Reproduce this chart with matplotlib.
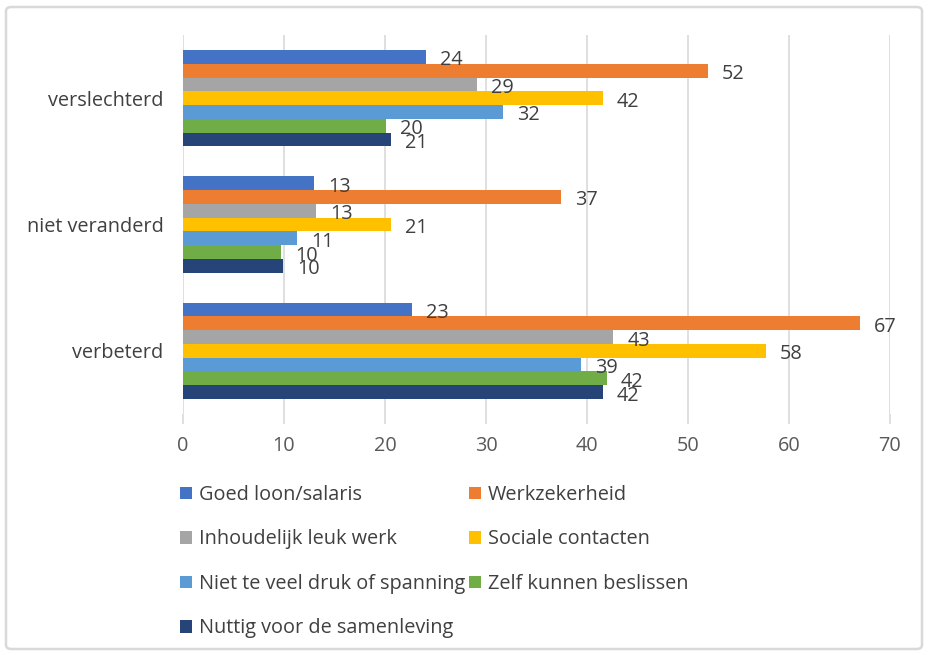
import matplotlib
matplotlib.use("Agg")
import matplotlib.pyplot as plt
import numpy as np
from matplotlib.patches import FancyBboxPatch

plt.rcParams['font.family'] = ['Open Sans', 'DejaVu Sans']

categories = ["verbeterd", "niet veranderd", "verslechterd"]
series_names = [
    "Goed loon/salaris",
    "Werkzekerheid",
    "Inhoudelijk leuk werk",
    "Sociale contacten",
    "Niet te veel druk of spanning",
    "Zelf kunnen beslissen",
    "Nuttig voor de samenleving",
]
# values per series, ordered as categories (verbeterd, niet veranderd, verslechterd)
goed_loon = [22.7, 13.0, 24.1]
werkzekerheid = [67.0, 37.4, 52.0]
inhoudelijk = [42.6, 13.2, 29.1]
sociale = [57.7, 20.6, 41.6]
niet_te_veel = [39.4, 11.3, 31.7]
zelf = [42.0, 9.7, 20.1]
nuttig = [41.6, 9.9, 20.6]
values = [goed_loon, werkzekerheid, inhoudelijk, sociale, niet_te_veel, zelf, nuttig]
colors = ["#4472C4", "#ED7D31", "#A5A5A5", "#FFC000", "#5B9BD5", "#70AD47", "#264478"]
xticks = [0, 10, 20, 30, 40, 50, 60, 70]

fs = 14.3

fig = plt.figure(figsize=(9.29, 6.55), dpi=100)
ax = fig.add_axes([183/929, 1-414/655, (890-183)/929, (414-35)/655])

n = len(values)
bh = 0.109
y = np.arange(len(categories))
handles = []
for i, (vals, c, name) in enumerate(zip(values, colors, series_names)):
    pos = y + (n/2 - i - 0.5) * bh
    b = ax.barh(pos, vals, height=bh, color=c, label=name, zorder=3)
    handles.append(b)
    for p, v in zip(pos, vals):
        ax.annotate(f"{int(v + 0.5):d}", (v, p), xytext=(10, -2.5), textcoords='offset points',
                    ha='left', va='center', fontsize=fs, color='#404040', zorder=4)

ax.set_xlim(0, 70)
ax.set_ylim(-0.5, 2.5)
ax.set_xticks(xticks)
ax.set_xticklabels([str(t) for t in xticks])
ax.set_yticks(y)
ax.set_yticklabels(categories)
ax.grid(axis='x', color='#d9d9d9', linewidth=1.2, zorder=0)
for s in ax.spines.values():
    s.set_visible(False)
ax.tick_params(axis='x', length=7, color='#d9d9d9', width=1.2, pad=9, labelsize=fs, labelcolor='#595959')
ax.tick_params(axis='y', length=0, pad=14, labelsize=fs, labelcolor='#404040')

order = [0, 2, 4, 6, 1, 3, 5]
leg = fig.legend([handles[i] for i in order], [series_names[i] for i in order],
                 ncol=2, loc='upper left', bbox_to_anchor=(180/929, 1-485/655),
                 frameon=False, fontsize=fs, handlelength=0.6, handleheight=0.6,
                 handletextpad=0.35, labelspacing=1.23, columnspacing=0.2,
                 borderaxespad=0, borderpad=0)
for t in leg.get_texts():
    t.set_color('#404040')

border = FancyBboxPatch((6/929, 6/655), (916)/929, (642)/655,
                        boxstyle="round,pad=0,rounding_size=0.006",
                        transform=fig.transFigure, fill=False,
                        edgecolor='#d9d9d9', linewidth=1.8)
fig.patches.append(border)

fig.savefig("out.png", dpi=100)
